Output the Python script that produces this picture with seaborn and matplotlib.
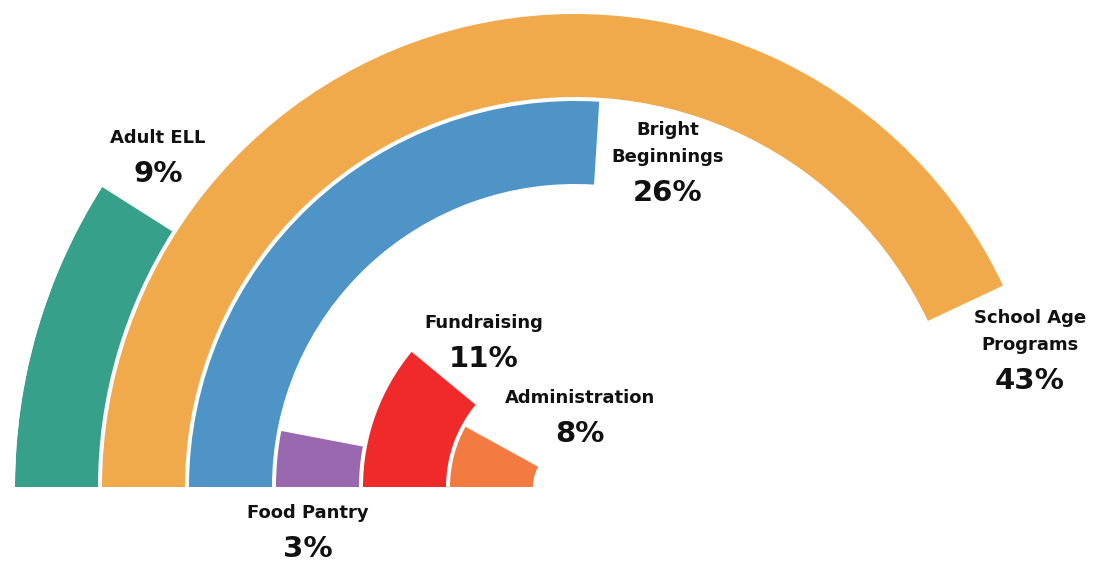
import numpy as np
import matplotlib.pyplot as plt
import seaborn as sns

sns.set_theme(style="white")
plt.rcParams["font.family"] = ["DejaVu Sans"]

# data, outermost ring first
categories = ["Adult ELL", "School Age\nPrograms", "Bright\nBeginnings",
              "Food Pantry", "Fundraising", "Administration"]
percents = [9, 43, 26, 3, 11, 8]
colors = ["#37a08a", "#f0a94b", "#4e94c6", "#9a68ae", "#f02a2a", "#f37a40"]

# first-line label anchors in figure pixels (x, y from top) - layout only
label_pos = [(158, 138), (1030, 318), (668, 130),
             (308, 513), (484, 323), (580, 398)]

W, H = 1114, 561
cx, cy = 575, 487          # ring centre in pixels
rmax = 560

fig = plt.figure(figsize=(W / 100, H / 100), dpi=100)
ax = fig.add_axes([(cx - rmax) / W, (H - cy - rmax) / H,
                   2 * rmax / W, 2 * rmax / H], projection="polar")
ax.set_theta_zero_location("W")
ax.set_theta_direction(-1)
ax.set_ylim(0, rmax)
ax.axis("off")

pitch, thick = 87, 83
for i, (p, c) in enumerate(zip(percents, colors)):
    outer = rmax - pitch * i
    ax.bar(0, thick, width=p / 100 * 2 * np.pi, bottom=outer - thick,
           align="edge", color=c, edgecolor="none")

for (name, p), (x, y) in zip(zip(categories, percents), label_pos):
    lines = name.split("\n")
    for k, line in enumerate(lines):
        fig.text(x / W, 1 - (y + 27 * k) / H, line, ha="center", va="center",
                 fontsize=13, fontweight="bold", color="#111111")
    fig.text(x / W, 1 - (y + 27 * (len(lines) - 1) + 36) / H, f"{p}%",
             ha="center", va="center", fontsize=21, fontweight="bold",
             color="#111111")

fig.savefig("out.png", dpi=100)
